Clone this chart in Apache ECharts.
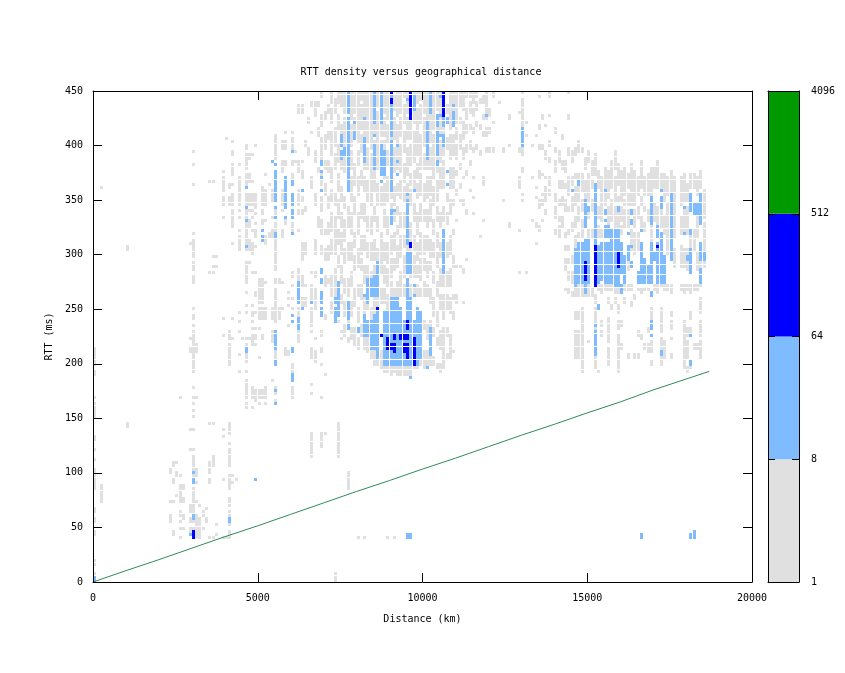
<!DOCTYPE html>
<html><head><meta charset="utf-8">
<style>html,body{margin:0;padding:0;background:#fff}#c{width:845px;height:673px}</style>
<script src="https://cdn.jsdelivr.net/npm/echarts@6/dist/echarts.min.js"></script>
</head><body><div id="c"></div>
<script>
// each entry: distance bin (km), then pairs of RTT ranges (ms)
const greyRuns = [
[0,0,6,15,18,42,46,56,60,64,68,86,104,112,114,120,122,130,133,152,165,170,172,190,194,200,216],
[200,74,90,361,363],[1000,143,147,304,308],
[2300,54,60,74,76,100,103],[2400,42,46,74,76,90,93,105,108],[2500,97,100,108,110,80,82],[2600,40,42,50,52,56,58,62,66,74,90,98,100,170,172],
[2700,50,52,58,62,86,90,74,78],[2900,44,50,50,52,56,60,64,72,122,124,140,142,210,213,224,226,310,312],
[3000,40,46,50,52,56,62,64,72,74,88,90,102,106,116,122,124,140,142,151,153,158,160,164,166,170,172,179,181,193,197,199,209,211,218,220,229,235,237,240,245,250,252,275,281,287,293,297,303,306,313,319,321,364,366,383,385,394,396],
[3100,40,52,56,62,72,74,90,92,96,102,170,172,210,218],[3200,40,52,56,60,70,72],[3300,50,52,60,64],[3400,56,60,66,68],
[3500,40,42,92,96,100,110,145,147,284,286,368,370],[3600,40,42,106,116,145,147,284,286,298,300,289,291,368,370],[3700,44,46,52,54,298,300,289,291],
[3900,40,42,94,96,134,136,140,142,226,228,242,244,333,335,347,355,359,371,376,378],[4000,40,42,407,409],
[4100,40,46,52,56,58,66,70,76,86,100,106,112,114,122,126,128,136,146,199,219,223,229,345,352,362,366],
[4200,92,94,98,100,223,225,242,244,310,312,326,341,345,356,364,366,373,376,380,385,390,394,402,404],[4300,94,96],
[4400,194,196,209,211,229,231,239,241,246,248,304,313,316,318,323,325,335,337,341,343,347,371,381,383],[4500,222,224],
[4600,159,164,170,185,194,196,202,213,217,219,222,224,246,248,254,256,265,267,274,283,286,293,304,322,326,329,333,341,345,356,364,370,374,376,379,393,397,402],
[4700,222,224,293,295,304,313,326,333,341,343,345,356,368,374,388,393],
[4800,161,163,168,177,216,220,223,226,232,234,239,241,243,248,254,256,284,286,300,302,304,310,321,323,333,335,341,343,347,358,368,370,390,392],
[4900,167,169,170,176,217,219,223,226,232,234,248,250,262,266,284,286,307,309,317,323,327,329,338,340,342,344,347,356,399,401],
[5000,164,166,170,176,204,206,232,234,242,251,255,260,262,272,274,277],
[5100,168,176,223,228,242,251,255,272,274,278,329,333,338,341,345,362],
[5200,162,164,170,179,242,251,275,277,310,318,332,334,347,359,374,376],[5300,320,317,364,366],
[5400,185,187,220,229,242,251,317,323,333,335,349,359],
[5500,164,168,173,179,199,213,237,251,252,268,274,278,286,313,323,330,336,341,387,396,397,411],[5600,242,251,274,278],
[5700,251,253,275,277,317,323,341,343,347,359,376,385,397,405],[5800,208,215,329,333,381,385,397,405,411,413],
[5900,208,211,236,238,254,256,260,262,265,267],[6000,170,180,194,202,237,239,251,253,258,260,272,274,281,284,323,329,368,376,381,385,396,405,411,413],
[6100,385,387,394,396],[6200,220,229,243,251,277,281,283,286,323,325,336,341,347,359,376,385,430,436],
[6300,249,258,272,281,370,378,385,387,295,310,336,341,354,349,430,436],[6400,252,260,272,274,300,310,340,345,400,405],[6500,390,396,420,425],
[6600,115,137,173,175,182,184,205,216,228,229,234,249,260,272,284,286,362,372,413,415,435,440],[6700,202,213,222,224,249,257,260,271,281,284,300,312,345,355,386,396,428,440],[6800,325,335,375,380,408,415,435,438],
[6900,125,137,170,172,200,202,211,216,225,227,229,231,300,306,320,332,340,354,365,375,388,406,418,428,445,450],[7000,135,137,191,193,240,245,270,280,296,305,320,325,356,365,378,385,398,412,425,432],
[7100,275,280,296,308,320,330,342,352,375,384,405,412,430,438],[7200,248,258,262,280,300,312,322,338,350,360,368,380,390,412,420,432,440,450],
[7300,0,6,237,250,255,275,277,286,300,318,322,335,345,355,378,392,400,415,430,444],[7400,115,145,238,240,243,250,262,275,290,300,310,322,335,350,358,375,385,400,415,428,438,450],
[7500,222,224,229,231,255,262,275,290,300,318,325,338,350,362,380,395,400,420,436,450],[7600,225,235,245,258,266,280,292,305,312,330,342,352,375,388,400,425,430,450],
[7700,85,100,219,222,231,240,262,278,295,312,325,345,358,370,395,412,430,450],
[7800,222,232,245,258,272,285,295,312,320,338,350,372,378,395,400,418,425,450],[7900,218,235,252,268,285,298,308,320,336,352,365,385,405,425,430,450],
[8000,40,42,215,225,238,252,262,272,288,305,320,338,355,370,382,396,402,428,430,450],[8100,225,235,258,272,285,296,302,318,335,348,365,378,395,410,415,436,442,450],
[8200,40,42,215,225,248,262,275,292,305,318,330,345,358,372,380,396,402,432,436,450],[8300,212,225,250,260,268,290,298,310,322,335,350,368,378,396,402,420,425,450],
[8400,205,214,240,250,268,285,296,312,318,335,345,360,365,392,396,432,436,450],[8500,200,212,245,262,270,290,296,315,332,345,358,376,380,405,410,450],
[8600,198,212,250,262,285,305,322,335,345,365,378,396,400,430,436,450],[8700,196,212,255,268,282,300,305,322,345,362,380,405,410,450],
[8800,194,200,255,268,275,290,295,312,325,340,345,364,370,405,410,426,430,450],[8900,40,42,192,200,250,262,270,285,292,310,318,335,350,372,382,396,402,418,424,450],
[9000,190,200,262,275,280,296,302,318,330,345,352,372,378,400,405,450],[9100,40,42,192,200,262,268,285,296,305,320,330,338,345,362,375,398,405,425,432,446],
[9200,190,198,262,275,288,306,318,325,338,345,355,365,378,396,400,420,428,450],[9300,190,198,262,272,275,284,298,318,325,338,352,368,376,400,408,425,430,450],
[9400,190,199,262,272,280,300,308,318,326,340,350,362,368,385,394,412,420,436,444,450],[9500,190,198,262,266,300,312,325,340,350,365,372,396,405,425,430,450],
[9600,190,198,262,272,280,300,305,330,345,358,365,376,382,400,405,450],[9700,195,199,262,268,280,300,305,318,330,345,362,378,385,412,420,450],
[9800,195,205,262,272,280,290,296,312,320,338,352,365,370,384,390,405,410,434,440,450],[9900,198,206,262,270,276,296,302,322,330,345,356,375,380,412,420,436,442,450],
[10000,196,212,232,240,262,275,285,295,302,318,330,340,350,365,378,392,400,425,430,450],[10100,198,212,222,235,262,272,280,292,305,318,325,340,352,370,378,396,402,432,436,450],
[10200,200,208,232,240,256,268,285,292,298,315,330,348,355,372,378,396,402,428,432,450],[10300,198,206,225,232,245,262,275,285,298,312,318,332,345,362,370,410,415,450],
[10400,195,200,218,225,235,248,262,275,288,300,306,320,330,342,348,368,375,396,400,425,432,450],[10500,192,198,215,232,250,262,270,285,298,312,326,340,360,380,385,405,410,450],
[10600,195,232,240,262,270,282,288,300,330,342,360,385,392,405,412,450],[10700,205,208,225,232,250,262,272,285,298,310,328,338,348,356,396,405,430,436,450],
[10800,205,228,248,262,270,285,302,318,338,350,360,380,388,410,415,450],[10900,210,212,240,248,260,265,290,300,320,325,345,350,362,380,392,412,420,450],
[11000,255,262,290,292,330,332,354,358,372,376,388,400,405,415,420,450],[11100,290,292,350,352,362,366,380,385,396,410,420,425,435,450],
[11200,256,258,282,286,345,350,370,372,388,398,405,420,432,450],[11300,296,298,338,342,372,376,395,402,412,418,425,436,444,450],[11400,358,360,382,385,398,404,416,420,430,440,445,450],
[11500,338,340,352,354,370,372,395,398,412,416,428,436,440,450],[11600,396,400,418,422,432,438,445,450],[11700,315,317,392,395,416,420,440,445],[11800,330,332,365,372,408,412,425,430,438,445],
[11900,395,400,410,416,425,440,442,450],[12000,395,398,412,415,428,436],[12100,395,400,420,422,445,450],[12300,440,442],[12400,350,352,395,398],[12600,325,330,400,402,425,428],
[12900,282,284,322,324,362,372,395,400,430,432],[13000,350,352,356,358,376,380,392,400,415,442,448,450],[13100,282,284,422,424,410,412],
[13300,330,332,370,372,400,402],[13400,310,312,325,328,352,354,362,364,410,412],[13500,322,326,344,350,370,376,398,402,415,418,444,446],
[13600,330,332,345,348,356,358,372,374,396,400,425,430],[13700,336,340,350,362,370,372,388,396,418,420],[13800,355,358,364,370,386,390,400,404,426,428,445,450],
[14000,320,325,335,345,350,356,375,385,395,400,412,415],[14100,315,318,322,325,330,335,345,350,362,370,385,395],[14200,325,335,345,352,362,368,378,386,405,410],
[14300,268,270,285,296,305,308,315,320,340,350,362,365,375,385],[14400,265,270,278,284,292,296,305,310,318,322,340,345,355,370,390,396,425,430,448,450],
[14500,262,266,275,284,292,300,322,330,340,352,364,372,385,395],
[14600,205,229,240,248,262,272,306,315,325,335,345,360,370,375,390,396],[14700,205,229,240,248,262,272,315,320,332,345,350,362,368,375,395,405],
[14800,193,197,199,229,231,237,241,250,262,272,315,330,340,350,358,375,395,400],[14900,262,265,352,368,380,390],[15000,220,222,262,272,315,322,335,345,350,375,385,395],
[15100,262,268,315,322,340,350,362,368,372,385],[15200,196,205,211,238,240,250,255,262,372,390],[15300,192,194,268,274,315,325,335,345,360,375],[15400,225,228,234,238,265,272,315,322,330,345,350,372],
[15500,268,272,345,360,365,380],[15600,198,215,220,236,238,242,255,258,268,272,325,345,352,378],[15700,250,254,268,272,330,350,360,385],[15800,255,258,265,272,325,345,350,372,380,395],
[15900,192,194,196,208,212,228,232,238,248,254,265,272,325,340,350,355,365,385],[16000,215,218,235,238,268,272,318,325,330,342,350,378],[16100,255,258,268,272,325,340,345,350,355,380],
[16200,205,208,268,272,285,300,325,340,345,355,360,372],[16300,252,255,267,272,305,325,345,360,365,384],[16400,205,208,258,262,300,320,325,340,345,375],
[16500,205,210,225,228,268,270,305,320,335,345,355,370],[16600,222,225,265,270,322,335,345,352,360,385],[16700,215,218,268,270,322,330,340,345,355,372],
[16800,210,212,215,220,228,232,268,270,330,340,355,375],[16900,200,205,212,223,240,250,312,325,355,380],[17000,268,272,330,345,360,378],
[17100,265,272,325,345,360,384],[17200,200,208,215,224,230,253,270,272,325,340,360,372],[17300,205,222,268,272,320,335,350,375],
[17400,268,272,300,345,355,372],[17500,205,208,222,224,232,238,245,248,265,272,350,378],[17600,290,305,315,345,350,372],
[17800,268,272,290,310,320,335,345,370],[17900,195,202,205,228,230,240,265,272,290,305,318,342,350,374],[18000,192,195,205,212,214,222,225,232,268,272,285,305,320,345,350,365],
[18100,196,199,230,235,240,248,265,272,300,318,345,350,360,374],[18200,215,218,268,272,305,325,360,372],[18300,215,220,268,272,285,300,315,335,355,370],[18400,205,212,214,222,226,240,248,262,272,295,360,375],[18500,288,295,305,330,335,360],
];
const lightRuns = [
[0,0,3],[2900,44,46],[3000,57,61,91,92,95,96,100,101],[4100,56,61],[4900,95,97],
[4600,210,214,362,364,344,346,332,334,306,308],[5100,323,325,317,319,313,315],[5400,385,387],
[5500,164,166,176,178,199,203,214,219,220,229,344,346,349,356,358,365,367,377,381,383,333,335,315,320],[5800,344,346,356,346,358,365,367,371,334,336],
[6000,184,191,210,213,237,239,243,245,320,322,333,335,336,341,345,356,364,366,368,370,394,396],[6200,231,242,255,275],[6300,251,253,359,361],[6600,257,259],
[6900,243,251,255,260,262,266,274,278,283,286,359,361,369,371,375,377,381,383,385,387],
[7300,237,250,257,260],[7400,243,271,271,275],[7500,388,394,400,411],[7600,390,396],[7700,235,231,240,255,358,365,368,378,379,394,396,423,430,450],[7900,405,411,420,422],
[8000,228,232],[8200,225,239,240,245,263,265,384,386,388,408,423,425],[8300,225,239,255,278],[8400,214,239,262,278],[8500,213,245,262,281,379,402,408,410,420,423,426,428,430,450],
[8600,204,210,213,248,262,281,283,292],[8700,368,370,373,402,420,428,430,450],[8800,200,249,373,396],[8900,200,250],[9000,200,260,327,339,358,365,367,378,379,396,397,405,410,430,430,450],[9100,200,260,341,343],
[9200,198,260,372,374,384,386,399,401],[9300,199,251],[9400,199,239],[9500,199,262,283,303,262,278,309,314,315,324,326,332,333,342,345,349,356,358,442,444],
[9600,199,260,283,292,296,303,188,190,423,425],[9700,199,239,262,264,272,274,359,361,433,436,440,447],[9800,199,251],[9900,206,248],[10100,197,199,388,396,397,408,408,420],[10200,208,232,431,439,440,450],
[10400,382,387,391,396,397,408,410,414,419,430],[10500,408,410,428,430,446,448],[10600,283,293,294,303,303,315,315,321,400,402,402,408,417,426],[10700,364,366,376,378,421,426],[10900,418,432,437,439],[11900,428,430],[13000,399,402,405,408,408,414],
[14500,359,361],[14600,271,272,274,281,283,303,305,306],[14700,274,281,283,303,305,312,364,368],[14800,274,303,305,313],[14900,265,276,294,303,305,315,324,327,332,352],
[15000,274,303,305,315,339,344],[15200,209,211,211,218,220,229,235,237,307,356,358,364],[15300,250,254,274,303,305,309],[15400,277,281,283,303,305,313],
[15500,274,281,283,303,305,313,315,324,332,334,336,339,359,361],[15600,274,303,305,313,315,324],[15700,274,303,305,324],[15800,272,303,305,324],[15900,272,289,305,324,339,344],[16000,264,272,283,303,305,313],[16100,274,281,283,300],[16200,295,307,318,320],
[16300,289,294,306,308,327,332,336,339],[16500,274,285],[16600,274,303,305,312,321,323],[16700,274,295],[16800,274,290],[16900,227,229,231,238,262,266,274,294,295,303,305,312,327,338,339,353],[17000,295,303],[17100,274,303,305,313,315,324],
[17200,209,212,212,214,274,303,305,322,342,353,359,361],[17300,274,300],[17500,295,313,315,324,327,339,341,356],[17900,320,322,344,346],[18000,295,298],[18100,199,203,226,228,283,294,295,306,319,324,339,356],[18200,336,347],[18300,336,347],[18400,274,281,283,287,295,303,305,312,327,339,341,356],[18500,295,303],
[16600,40,44],[18100,40,44],[18200,40,46],[9500,40,44],[9600,40,44],
];
const blueRuns = [
[3000,40,46],[8600,249,251],[8700,225,227],[8900,214,225],[9000,214,219],[9100,210,211,214,219,222,225],[9300,222,226],[9400,211,219,222,226],
[9500,205,210,211,219,222,226,232,239],[9600,307,311],[9700,199,208,211,219,220,225],
[9000,439,442,448,450],[9600,423,450],[10600,427,440,442,450],[15200,270,306],[14900,277,281,283,294],[15900,289,303],[17100,306,308],
];
const lineKm = [0,1000,2000,3000,4000,5000,6000,7000,8000,9000,10000,11000,12000,13000,14000,15000,16000,17000,18000,18700];
const lineMs = [0,10.4,20.5,31,41.5,51.5,62,72.5,83,93,103.5,113.5,124,134.5,144.5,155,165,176,186,193];
const colorEdges = [0,3,6,9,12];
const colorTicks = ['1','8','64','512','4096'];
const colorFills = ['#e0e0e0','#7fbbff','#0000ff','#009900'];
const binMs = 3;

function cells(runs){
  const seen = new Set(), out = [];
  runs.forEach(r=>{
    for(let i=1;i<r.length;i+=2){
      const lo=Math.min(r[i],r[i+1]),hi=Math.max(r[i],r[i+1]);
      for(let y=lo;y<=hi;y+=binMs){
        const row=Math.min(149,Math.floor(y/binMs));
        const k=r[0]+'_'+row;
        if(!seen.has(k)){seen.add(k);out.push([r[0],row*binMs]);}
      }
    }
  });
  return out;
}
function cellSeries(runs,color,z){
  return {type:'custom',xAxisIndex:0,yAxisIndex:0,z:z,silent:true,animation:false,clip:false,
    encode:{x:0,y:1},data:cells(runs),
    renderItem:(p,api)=>{
      const a=api.coord([api.value(0),api.value(1)]);
      return {type:'rect',shape:{x:Math.round(a[0]),y:Math.round(a[1])-3,width:3,height:3},style:{fill:color,stroke:null}};
    }};
}
const font={fontFamily:'"DejaVu Sans Mono"',fontSize:10,color:'#000'};
const line={lineStyle:{color:'#000',width:1}};
const chart=echarts.init(document.getElementById('c'),null,{renderer:'canvas'});
chart.setOption({
  animation:false,backgroundColor:'#fff',
  title:{text:'RTT density versus geographical distance',left:416,top:62,textAlign:'center',textStyle:{...font,fontWeight:'normal'}},
  grid:[{left:93,top:91,width:659,height:491,show:false},{left:768,top:91,width:31,height:491,show:false}],
  xAxis:[
    {gridIndex:0,type:'value',min:0,max:20000,interval:5000,position:'bottom',z:5,
     name:'Distance (km)',nameLocation:'middle',nameGap:32,nameTextStyle:font,
     splitLine:{show:false},axisLine:{show:true,onZero:false,...line},
     axisTick:{inside:true,length:9,...line},axisLabel:{...font,margin:11,showMinLabel:true,showMaxLabel:true,formatter:v=>String(v)}},
    {gridIndex:0,type:'value',min:0,max:20000,interval:5000,position:'top',z:5,
     splitLine:{show:false},axisLine:{show:true,onZero:false,...line},axisTick:{inside:true,length:9,...line},axisLabel:{show:false}},
    {gridIndex:1,type:'value',min:0,max:1,position:'bottom',z:5,splitLine:{show:false},axisLine:{show:true,onZero:false,...line},axisTick:{show:false},axisLabel:{show:false}},
    {gridIndex:1,type:'value',min:0,max:1,position:'top',z:5,splitLine:{show:false},axisLine:{show:true,onZero:false,...line},axisTick:{show:false},axisLabel:{show:false}}
  ],
  yAxis:[
    {gridIndex:0,type:'value',min:0,max:450,interval:50,position:'left',z:5,
     name:'RTT (ms)',nameLocation:'middle',nameGap:25,nameRotate:90,nameTextStyle:font,
     splitLine:{show:false},axisLine:{show:true,onZero:false,...line},axisTick:{inside:true,length:9,...line},axisLabel:{...font,margin:10}},
    {gridIndex:0,type:'value',min:0,max:450,interval:50,position:'right',z:5,
     splitLine:{show:false},axisLine:{show:true,onZero:false,...line},axisTick:{inside:true,length:9,...line},axisLabel:{show:false}},
    {gridIndex:1,type:'value',min:0,max:12,interval:3,position:'right',z:5,
     splitLine:{show:false},axisLine:{show:true,onZero:false,...line},axisTick:{inside:true,length:7,...line},
     axisLabel:{...font,margin:12,formatter:v=>colorTicks[colorEdges.indexOf(v)]}},
    {gridIndex:1,type:'value',min:0,max:12,interval:3,position:'left',z:5,
     splitLine:{show:false},axisLine:{show:true,onZero:false,...line},axisTick:{inside:true,length:7,...line},axisLabel:{show:false}}
  ],
  series:[
    cellSeries(greyRuns,colorFills[0],1),
    cellSeries(lightRuns,colorFills[1],2),
    cellSeries(blueRuns,colorFills[2],3),
    {type:'line',xAxisIndex:0,yAxisIndex:0,z:4,silent:true,showSymbol:false,animation:false,
     data:lineKm.map((k,i)=>[k,lineMs[i]]),lineStyle:{color:'#2e8b57',width:1}},
    {type:'custom',xAxisIndex:2,yAxisIndex:2,z:1,silent:true,animation:false,
     encode:{y:[0,1]},data:colorFills.map((c,i)=>[colorEdges[i],colorEdges[i+1],i]),
     renderItem:(p,api)=>{
       const lo=api.coord([0,api.value(0)]),hi=api.coord([1,api.value(1)]);
       return {type:'rect',shape:{x:lo[0],y:hi[1],width:hi[0]-lo[0],height:lo[1]-hi[1]},style:{fill:colorFills[api.value(2)],stroke:null}};
     }}
  ]
});
</script></body></html>
